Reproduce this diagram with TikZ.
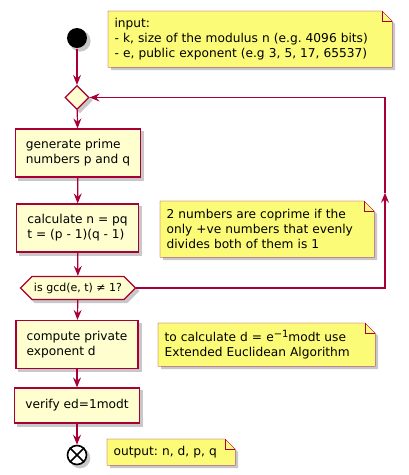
\documentclass[tikz,border=0pt]{standalone}
\usepackage{fontspec}
\setmainfont{DejaVu Sans}
\usetikzlibrary{calc,arrows.meta,shapes.geometric,shapes.symbols,backgrounds}
\definecolor{umlBorder}{HTML}{A80036}
\definecolor{umlBox}{HTML}{FEFECE}
\definecolor{umlNote}{HTML}{FBFB77}
\definecolor{umlShadow}{HTML}{C8C8C8}
\frenchspacing

% folded-corner outline behind a note node
\newcommand\drawnote[1]{%
  \begin{scope}[on background layer]
    \fill[umlShadow,transform canvas={shift={(3pt,-3pt)}}]
      (#1.north west) -- ($(#1.north east)+(-10,0)$) -- ($(#1.north east)+(0,10)$)
      -- (#1.south east) -- (#1.south west) -- cycle;
    \filldraw[fill=umlNote,draw=umlBorder]
      (#1.north west) -- ($(#1.north east)+(-10,0)$) -- ($(#1.north east)+(0,10)$)
      -- (#1.south east) -- (#1.south west) -- cycle;
    \draw[umlBorder] ($(#1.north east)+(-10,0)$) |- ($(#1.north east)+(0,10)$);
  \end{scope}}

\begin{document}
\begin{tikzpicture}[
    x=1pt, y=-1pt,
    line width=1.2pt,
    every node/.style={font=\fontsize{12.2}{15}\selectfont},
    umlshadow/.style={preaction={fill=umlShadow, draw=umlShadow, transform canvas={shift={(3pt,-3pt)}}}},
    actbox/.style={rectangle, draw=umlBorder, fill=umlBox, umlshadow,
      align=left, inner xsep=10.5pt, inner ysep=4pt, minimum height=48pt},
    merge/.style={diamond, draw=umlBorder, fill=umlBox, umlshadow,
      minimum width=24pt, minimum height=24pt, inner sep=0pt},
    test/.style={signal, signal to=west and east, signal pointer angle=90,
      draw=umlBorder, fill=umlBox, umlshadow, inner xsep=2pt, minimum height=23pt,
      font=\fontsize{11}{13}\selectfont},
    note/.style={anchor=north west, align=left, inner xsep=6pt, inner ysep=2pt},
    flow/.style={umlBorder, -{Stealth[length=10pt,width=8pt,inset=3.5pt]}},
  ]
  \useasboundingbox (0,0) rectangle (409,475);

  % Start, merge point and steps
  \node[circle, fill=black, minimum size=20pt, inner sep=0pt, umlshadow] (start) at (77,38) {};
  \node[merge] (loop) at (77,97.5) {};
  \node[actbox] (genprime) at (78,153) {generate prime\\numbers p and q};
  \node[actbox] (calcnt) at (77.5,228) {calculate n = pq\\t = (p - 1)(q - 1)};
  \node[test] (gcdtest) at (78,288) {is gcd(e, t) ≠ 1?};
  \node[actbox] (privexp) at (77,344.5) {compute private\\exponent d};
  \node[actbox, minimum height=35pt] (verify) at (77,405.5) {verify ed=1modt};
  \node[circle, draw=black, fill=white, line width=1.6pt, minimum size=19pt, inner sep=0pt, umlshadow] (stop) at (77,455) {};
  \draw[black, line width=1.6pt] (stop.45) -- (stop.225) (stop.135) -- (stop.315);

  % Notes
  \node[note, text width=271pt, minimum height=55pt] (noteinput) at (108,11)
    {input:\\- k, size of the modulus n (e.g. 4096 bits)\\- e, public exponent (e.g 3, 5, 17, 65537)};
  \node[note, text width=201pt, minimum height=55pt] (notecoprime) at (160,201)
    {2 numbers are coprime if the\\only +ve numbers that evenly\\divides both of them is 1};
  \node[note, text width=204pt, minimum height=42pt] (noteeuclid) at (158,323)
    {to calculate d = e\raisebox{4.5pt}{\fontsize{10}{10}\selectfont −1}modt use\\Extended Euclidean Algorithm};
  \node[note, text width=115pt, minimum height=25pt] (noteoutput) at (107,439)
    {output: n, d, p, q};
  \drawnote{noteinput}
  \drawnote{notecoprime}
  \drawnote{noteeuclid}
  \drawnote{noteoutput}

  % Connectors
  \draw[flow] (start) -- (loop);
  \draw[flow] (loop) -- (genprime);
  \draw[flow] (genprime) -- (calcnt);
  \draw[flow] (calcnt) -- (gcdtest);
  \draw[flow] (gcdtest) -- (privexp);
  \draw[flow] (privexp) -- (verify);
  \draw[flow] (verify) -- (stop);

  % Back edge
  \coordinate (backlow) at (385,288);
  \coordinate (backhigh) at (385,97.5);
  \draw[flow] (gcdtest.east) -- (backlow) -- ($(backlow)!0.5!(backhigh)$);
  \draw[flow] ($(backlow)!0.5!(backhigh)$) -- (backhigh) -- (loop.east);
\end{tikzpicture}
\end{document}
